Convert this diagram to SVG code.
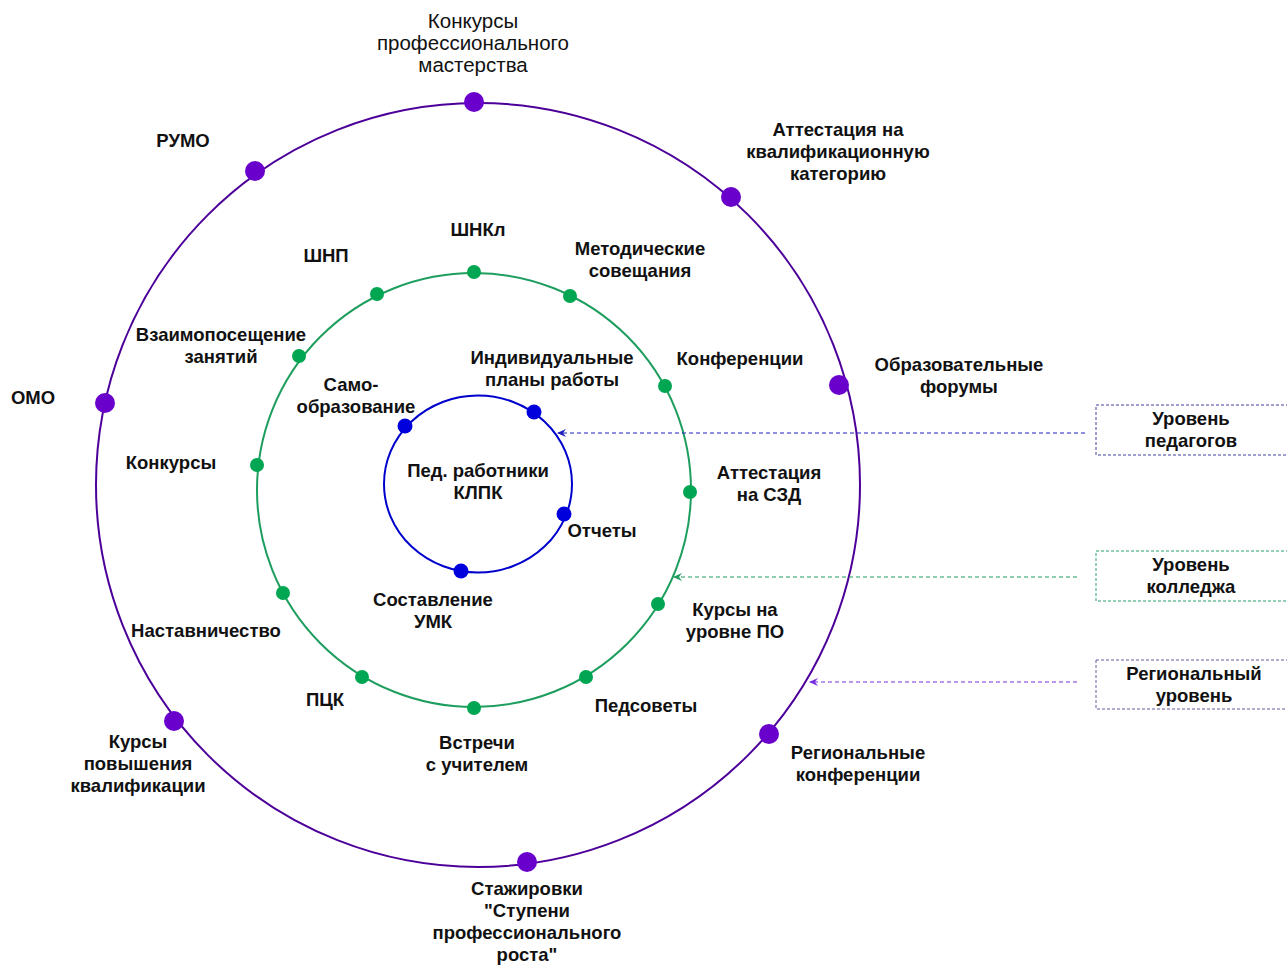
<svg xmlns="http://www.w3.org/2000/svg" width="1287" height="965" viewBox="0 0 1287 965">
<style>
text{font-family:"Liberation Sans",Arial,sans-serif;font-size:18.5px;font-weight:bold;fill:#111;text-anchor:middle}
.top{font-weight:normal;font-size:20.5px}
.ring{fill:none;stroke-width:2}
.po{fill:#6a00cc}
.pg{fill:#00a651}
.pb{fill:#0000dd}
.box{fill:#fff;stroke-dasharray:3 2;stroke-width:1}
.con{fill:none;stroke-width:1.2;stroke-dasharray:4 3}
</style>
<defs>
<marker id="ab" markerWidth="10" markerHeight="10" refX="8" refY="5" orient="auto" markerUnits="userSpaceOnUse"><path d="M0,1 L9,5 L0,9 L3,5 Z" fill="#2020c0"/></marker>
<marker id="ag" markerWidth="10" markerHeight="10" refX="8" refY="5" orient="auto" markerUnits="userSpaceOnUse"><path d="M0,1 L9,5 L0,9 L3,5 Z" fill="#1e9e5e"/></marker>
<marker id="ap" markerWidth="10" markerHeight="10" refX="8" refY="5" orient="auto" markerUnits="userSpaceOnUse"><path d="M0,1 L9,5 L0,9 L3,5 Z" fill="#7a30e0"/></marker>
</defs>
<rect width="1287" height="965" fill="#fff"/>
<g id="rings">
<circle class="ring" cx="478" cy="485" r="382" stroke="#4c0099"/>
<circle class="ring" cx="474" cy="490" r="217" stroke="#1e9e5e"/>
<ellipse class="ring" cx="478" cy="484" rx="94" ry="88.5" stroke="#0000cc"/>
</g>
<g id="connectors">
<line class="con" x1="1085" y1="433" x2="558" y2="433" stroke="#2020c0" marker-end="url(#ab)"/>
<line class="con" x1="1077" y1="577" x2="674" y2="577" stroke="#1e9e5e" marker-end="url(#ag)"/>
<line class="con" x1="1077" y1="682" x2="810" y2="682" stroke="#7a30e0" marker-end="url(#ap)"/>
</g>
<g id="center"><text x="478" y="477">Пед. работники</text><text x="478" y="499">КЛПК</text></g>
<g id="outer-top"><circle class="po" cx="474" cy="102" r="10"/><text class="top" x="473" y="28">Конкурсы</text><text class="top" x="473" y="50">профессионального</text><text class="top" x="473" y="72">мастерства</text></g>
<g id="outer-att"><circle class="po" cx="731" cy="197" r="10"/><text x="838" y="136">Аттестация на</text><text x="838" y="158">квалификационную</text><text x="838" y="180">категорию</text></g>
<g id="outer-forum"><circle class="po" cx="839" cy="385" r="10"/><text x="959" y="371">Образовательные</text><text x="959" y="393">форумы</text></g>
<g id="outer-regconf"><circle class="po" cx="769" cy="734" r="10"/><text x="858" y="759">Региональные</text><text x="858" y="781">конференции</text></g>
<g id="outer-stazh"><circle class="po" cx="527" cy="862" r="10"/><text x="527" y="895">Стажировки</text><text x="527" y="917">"Ступени</text><text x="527" y="939">профессионального</text><text x="527" y="961">роста"</text></g>
<g id="outer-kurs"><circle class="po" cx="174" cy="721" r="10"/><text x="138" y="748">Курсы</text><text x="138" y="770">повышения</text><text x="138" y="792">квалификации</text></g>
<g id="outer-omo"><circle class="po" cx="105" cy="403" r="10"/><text x="33" y="404">ОМО</text></g>
<g id="outer-rumo"><circle class="po" cx="255" cy="171" r="10"/><text x="183" y="147">РУМО</text></g>
<g id="g-shnkl"><circle class="pg" cx="474" cy="272" r="7"/><text x="478" y="236">ШНКл</text></g>
<g id="g-metod"><circle class="pg" cx="570" cy="296" r="7"/><text x="640" y="255">Методические</text><text x="640" y="277">совещания</text></g>
<g id="g-konf"><circle class="pg" cx="665" cy="386" r="7"/><text x="740" y="365">Конференции</text></g>
<g id="g-szd"><circle class="pg" cx="690" cy="492" r="7"/><text x="769" y="479">Аттестация</text><text x="769" y="501">на СЗД</text></g>
<g id="g-kursPO"><circle class="pg" cx="658" cy="604" r="7"/><text x="735" y="616">Курсы на</text><text x="735" y="638">уровне ПО</text></g>
<g id="g-pedsov"><circle class="pg" cx="586" cy="677" r="7"/><text x="646" y="712">Педсоветы</text></g>
<g id="g-vstr"><circle class="pg" cx="474" cy="708" r="7"/><text x="477" y="749">Встречи</text><text x="477" y="771">с учителем</text></g>
<g id="g-pck"><circle class="pg" cx="362" cy="677" r="7"/><text x="325" y="706">ПЦК</text></g>
<g id="g-nast"><circle class="pg" cx="283" cy="593" r="7"/><text x="206" y="637">Наставничество</text></g>
<g id="g-konk"><circle class="pg" cx="257" cy="465" r="7"/><text x="171" y="469">Конкурсы</text></g>
<g id="g-vzaim"><circle class="pg" cx="299" cy="356" r="7"/><text x="221" y="341">Взаимопосещение</text><text x="221" y="363">занятий</text></g>
<g id="g-shnp"><circle class="pg" cx="377" cy="294" r="7"/><text x="326" y="262">ШНП</text></g>
<g id="b-samo"><circle class="pb" cx="405" cy="426" r="7.5"/><text x="351" y="391">Само-</text><text x="356" y="413">образование</text></g>
<g id="b-ind"><circle class="pb" cx="534" cy="412" r="7.5"/><text x="552" y="364">Индивидуальные</text><text x="552" y="386">планы работы</text></g>
<g id="b-otch"><circle class="pb" cx="564" cy="514" r="7.5"/><text x="602" y="537">Отчеты</text></g>
<g id="b-umk"><circle class="pb" cx="461" cy="571" r="7.5"/><text x="433" y="606">Составление</text><text x="433" y="628">УМК</text></g>
<g id="box-ped"><rect class="box" x="1096" y="405" width="200" height="50" stroke="#4040a0"/><text x="1191" y="425">Уровень</text><text x="1191" y="447">педагогов</text></g>
<g id="box-col"><rect class="box" x="1096" y="551" width="200" height="50" stroke="#2a9e6a"/><text x="1191" y="571">Уровень</text><text x="1191" y="593">колледжа</text></g>
<g id="box-reg"><rect class="box" x="1096" y="660" width="200" height="49" stroke="#6a5a9a"/><text x="1194" y="680">Региональный</text><text x="1194" y="702">уровень</text></g>
</svg>
